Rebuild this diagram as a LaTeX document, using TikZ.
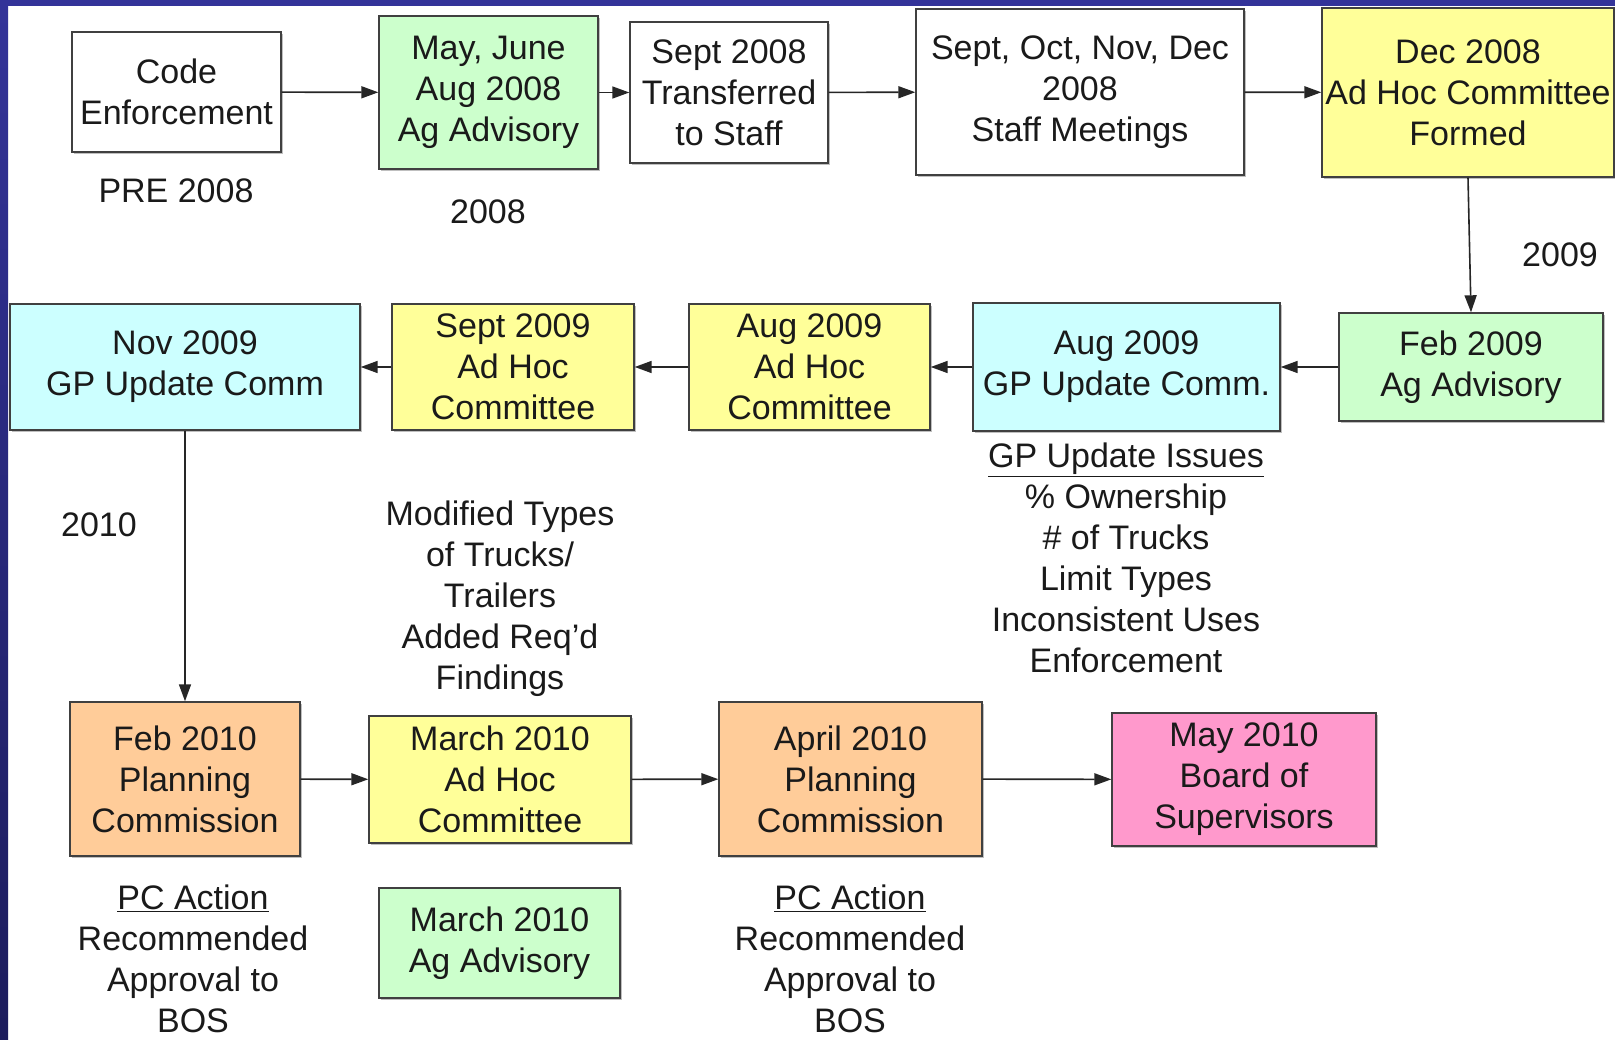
\documentclass[tikz,border=0pt]{standalone}
\usepackage{fontspec}
\setmainfont{Liberation Sans}
\usetikzlibrary{arrows.meta,shadows}
\definecolor{bgreen}{HTML}{CCFFCC}
\definecolor{byellow}{HTML}{FFFF99}
\definecolor{bcyan}{HTML}{CCFFFF}
\definecolor{borange}{HTML}{FFCC99}
\definecolor{bpink}{HTML}{FF99CC}
\definecolor{boxline}{HTML}{404040}
\definecolor{frametop}{HTML}{333399}
\definecolor{framebot}{HTML}{1C1C5C}
\definecolor{txt}{HTML}{1A1A1A}
\begin{document}
\begin{tikzpicture}[x=1pt,y=-1pt,
  box/.style={draw=boxline, line width=1.4pt, inner sep=0pt, align=center, text=txt,
    font=\fontsize{34}{41}\selectfont,
    drop shadow={shadow xshift=2pt, shadow yshift=-2pt, fill=black, opacity=0.25}},
  lbl/.style={align=center, inner sep=0pt, text=txt, font=\fontsize{34}{41}\selectfont},
  conn/.style={line width=1.6pt, draw=black!85, -{Triangle[length=17pt,width=12pt]}}]
\useasboundingbox (0,0) rectangle (1615,1040);
\fill[white] (0,0) rectangle (1615,1040);
\shade[top color=frametop, bottom color=framebot] (0,0) rectangle (8,1040);
\fill[frametop] (0,0) rectangle (1615,6);

% Row 1
\node[box, fill=white, minimum width=209pt, minimum height=120pt] (code) at (176.5,92) {Code\\Enforcement};
\node[box, fill=bgreen, minimum width=219pt, minimum height=153pt] (may) at (488.5,92.5) {May, June\\Aug 2008\\Ag Advisory};
\node[box, fill=white, minimum width=198pt, minimum height=141pt] (sept) at (729,92.5) {Sept 2008\\Transferred\\to Staff};
\node[box, fill=white, minimum width=328pt, minimum height=166pt] (septoct) at (1080,92) {Sept, Oct, Nov, Dec\\2008\\Staff Meetings};
\node[box, fill=byellow, minimum width=292pt, minimum height=169pt] (dec) at (1468,92.5) {Dec 2008\\Ad Hoc Committee\\Formed};

% Row 2
\node[box, fill=bgreen, minimum width=264pt, minimum height=108pt] (feb09) at (1471,367) {Feb 2009\\Ag Advisory};
\node[box, fill=bcyan, minimum width=307pt, minimum height=128pt] (aug09gp) at (1126.5,367) {Aug 2009\\GP Update Comm.};
\node[box, fill=byellow, minimum width=241pt, minimum height=126pt] (aug09ah) at (809.5,367) {Aug 2009\\Ad Hoc\\Committee};
\node[box, fill=byellow, minimum width=242pt, minimum height=126pt] (sep09ah) at (513,367) {Sept 2009\\Ad Hoc\\Committee};
\node[box, fill=bcyan, minimum width=350pt, minimum height=126pt] (nov09) at (185,367) {Nov 2009\\GP Update Comm};

% Row 3
\node[box, fill=borange, minimum width=230pt, minimum height=154pt] (feb10) at (185,779) {Feb 2010\\Planning\\Commission};
\node[box, fill=byellow, minimum width=262pt, minimum height=127pt] (mar10ah) at (500,779.5) {March 2010\\Ad Hoc\\Committee};
\node[box, fill=borange, minimum width=263pt, minimum height=154pt] (apr10) at (850.5,779) {April 2010\\Planning\\Commission};
\node[box, fill=bpink, minimum width=264pt, minimum height=133pt] (may10) at (1244,779.5) {May 2010\\Board of\\Supervisors};
\node[box, fill=bgreen, minimum width=241pt, minimum height=110pt] (mar10ag) at (499.5,943) {March 2010\\Ag Advisory};

% Labels
\node[lbl] (pre) at (176,191) {PRE 2008};
\node[lbl] (y2008) at (488,212) {2008};
\node[lbl] (y2009) at (1560,255) {2009};
\node[lbl] (y2010) at (99,525) {2010};
\node[lbl] (modified) at (500,599) {Modified Types\\of Trucks/\\Trailers\\Added Req'd\\Findings};
\node[lbl] (issues) at (1126,558) {\underline{GP Update Issues}\\\% Ownership\\\# of Trucks\\Limit Types\\Inconsistent Uses\\Enforcement};
\node[lbl] (pcleft) at (193,959) {\underline{PC Action}\\Recommended\\Approval to\\BOS};
\node[lbl] (pcright) at (850,959) {\underline{PC Action}\\Recommended\\Approval to\\BOS};

% Connectors
\draw[conn] (code) -- (may);
\draw[conn] (may) -- (sept);
\draw[conn] (sept) -- (septoct);
\draw[conn] (septoct) -- (dec);
\draw[conn] (dec.south) -- (feb09.north);
\draw[conn] (feb09) -- (aug09gp);
\draw[conn] (aug09gp) -- (aug09ah);
\draw[conn] (aug09ah) -- (sep09ah);
\draw[conn] (sep09ah) -- (nov09);
\draw[conn] (nov09) -- (feb10);
\draw[conn] (feb10) -- (mar10ah);
\draw[conn] (mar10ah) -- (apr10);
\draw[conn] (apr10) -- (may10);
\end{tikzpicture}
\end{document}
